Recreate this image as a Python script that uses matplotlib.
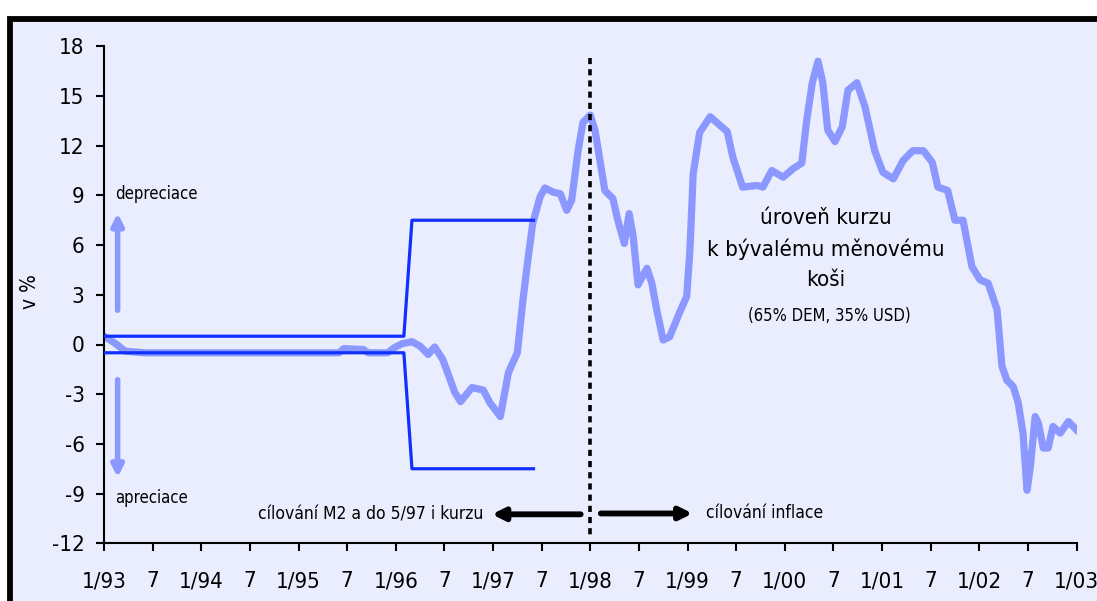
import matplotlib
matplotlib.use('Agg')
import numpy as np
from matplotlib import pyplot as plt
from matplotlib.patches import Rectangle

plt.rcParams['font.family'] = ['DejaVu Sans']
plt.rcParams['font.stretch'] = 'condensed'
plt.rcParams['axes.unicode_minus'] = False

# months since 1/93 and the exchange rate level vs the old basket (in %)
months = [0, 1.3, 2.6, 5, 10, 15, 20, 25, 29, 29.6, 32, 32.6, 35, 35.8, 36.8, 38,
          39, 40, 40.8, 41.8, 43.3, 44, 45.4, 46.8, 47.6, 48.9, 49.9, 51, 51.7,
          52.3, 52.9, 53.8, 54.4, 55.4, 56.3, 57.1, 57.7, 58.5, 59.1, 60, 60.6,
          61.2, 61.8, 62.8, 63.4, 64.2, 64.8, 65.3, 65.9, 67, 67.6, 68.2, 69,
          69.8, 71, 71.9, 72.3, 72.7, 73.5, 74.8, 76.9, 77.6, 78.8, 80.6, 81.3,
          82.4, 83.8, 85, 86.1, 86.7, 87.4, 88.1, 88.7, 89.3, 90.2, 91.1, 91.8,
          92.9, 93.9, 95.1, 96.1, 97.4, 98.6, 99.8, 101.1, 102.2, 102.9, 104.1,
          105, 106, 107.1, 108.1, 109.1, 110.2, 110.8, 111.4, 112.2, 112.8,
          113.4, 113.9, 114.3, 114.9, 115.3, 115.9, 116.5, 117.1, 118, 119,
          119.6, 120.2]
kurz = [0.5, 0.1, -0.4, -0.5, -0.5, -0.5, -0.5, -0.5, -0.5, -0.25, -0.3, -0.5,
        -0.5, -0.2, 0.05, 0.17, -0.1, -0.6, -0.15, -0.9, -2.9, -3.45, -2.6,
        -2.75, -3.5, -4.35, -1.7, -0.5, 2.7, 5.1, 7.3, 8.9, 9.45, 9.2, 9.1,
        8.1, 8.7, 11.7, 13.4, 13.85, 12.9, 11.1, 9.3, 8.8, 7.5, 6.1, 7.9, 6.5,
        3.6, 4.6, 3.7, 2.1, 0.27, 0.47, 1.9, 2.9, 5.7, 10.3, 12.8, 13.75,
        12.85, 11.3, 9.5, 9.6, 9.5, 10.5, 10.1, 10.6, 10.95, 13.5, 15.8, 17.1,
        15.8, 12.95, 12.25, 13.15, 15.35, 15.8, 14.35, 11.7, 10.4, 10.0, 11.1,
        11.7, 11.7, 11.0, 9.5, 9.3, 7.5, 7.5, 4.7, 3.9, 3.7, 2.1, -1.3, -2.15,
        -2.55, -3.5, -5.35, -8.8, -7.4, -4.35, -4.75, -6.25, -6.25, -4.95,
        -5.35, -4.65, -4.95, -5.25]

# fluctuation band
band_months = [0, 37, 38, 53]
band_upper = [0.5, 0.5, 7.5, 7.5]
band_lower = [-0.5, -0.5, -7.5, -7.5]

year_ticks = np.arange(1993, 2003.01, 0.5)
tick_labels = []
for t in year_ticks:
    if t % 1 == 0:
        tick_labels.append('1/%02d' % (int(t) % 100))
    else:
        tick_labels.append('7')

light = '#8a98ff'
blue = '#1030ff'
bg = '#eaedfd'

x = 1993 + np.array(months) / 12.0
bx = 1993 + np.array(band_months) / 12.0

fig = plt.figure(figsize=(10.97, 6.01), dpi=100)
fig.patch.set_facecolor('white')
frame = Rectangle((9.5 / 1097, -0.1), 1.2, 1 - 18.5 / 601 + 0.1,
                  transform=fig.transFigure, facecolor=bg,
                  edgecolor='black', linewidth=4.2, zorder=-5)
fig.patches.append(frame)

ax = fig.add_axes([104 / 1097, 1 - 543.3 / 601, (1076.5 - 104) / 1097, (543.3 - 46.3) / 601])
ax.set_facecolor('none')

ax.plot(x, kurz, color=light, lw=5.2, solid_joinstyle='round', solid_capstyle='round', zorder=2)
ax.plot(bx, band_upper, color=blue, lw=2.3, zorder=3)
ax.plot(bx, band_lower, color=blue, lw=2.3, zorder=3)
ax.plot([1998, 1998], [17.3, -11.5], color='black', lw=2.6, dashes=(1.7, 1.4), zorder=4)

ax.set_xlim(1993, 2003)
ax.set_ylim(-12, 18)
ax.set_yticks(np.arange(-12, 19, 3))
ax.set_yticklabels([str(v) for v in range(-12, 19, 3)])
ax.set_xticks(year_ticks)
ax.set_xticklabels(tick_labels)
for s in ['top', 'right']:
    ax.spines[s].set_visible(False)
for s in ['left', 'bottom']:
    ax.spines[s].set_linewidth(1.5)
ax.tick_params(axis='both', labelsize=16, width=1.5, length=6, colors='black')
ax.tick_params(axis='y', pad=8)
ax.tick_params(axis='x', pad=14)

fig.text(30 / 1097, 1 - 292 / 601, 'v %', rotation=90, fontsize=15, ha='center', va='center')

# depreciation / appreciation arrows
ax.annotate('', xy=(1993.14, 8.1), xytext=(1993.14, 1.9),
            arrowprops=dict(arrowstyle='-|>', color=light, lw=4, mutation_scale=17))
ax.annotate('', xy=(1993.14, -8.2), xytext=(1993.14, -1.96),
            arrowprops=dict(arrowstyle='-|>', color=light, lw=4, mutation_scale=17))
ax.text(1993.11, 9.1, 'depreciace', fontsize=12, ha='left', va='center')
ax.text(1993.11, -9.25, 'apreciace', fontsize=12, ha='left', va='center')

# regime arrows
ax.annotate('', xy=(1996.96, -10.25), xytext=(1997.93, -10.25),
            arrowprops=dict(arrowstyle='-|>', color='black', lw=4.2, mutation_scale=18))
ax.annotate('', xy=(1999.08, -10.2), xytext=(1998.08, -10.2),
            arrowprops=dict(arrowstyle='-|>', color='black', lw=4.2, mutation_scale=18))
ax.text(1996.90, -10.25, 'cílování M2 a do 5/97 i kurzu', fontsize=12.5, ha='right', va='center')
ax.text(1999.19, -10.2, 'cílování inflace', fontsize=12.5, ha='left', va='center')

ax.text(2000.42, 7.63, 'úroveň kurzu', fontsize=16, ha='center', va='center')
ax.text(2000.42, 5.75, 'k bývalému měnovému', fontsize=16, ha='center', va='center')
ax.text(2000.42, 3.9, 'koši', fontsize=16, ha='center', va='center')
ax.text(2000.46, 1.72, '(65% DEM, 35% USD)', fontsize=12, ha='center', va='center')

fig.savefig('out.png', dpi=100)
